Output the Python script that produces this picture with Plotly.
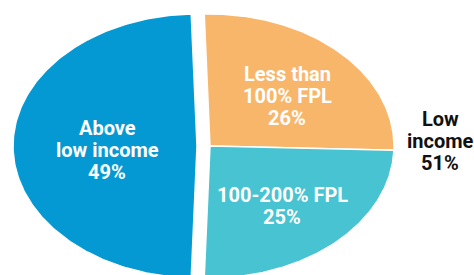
import numpy as np
import plotly.graph_objects as go

# ---- data ----
labels = ["Less than 100% FPL", "100-200% FPL", "Above low income"]
values = [26, 25, 49]
groups = ["Low income", "Low income", "Above low income"]
colors = ["#F8B66B", "#47C3D2", "#0599D4"]
label_lines = [["Less than", "100% FPL", "26%"],
               ["100-200% FPL", "25%"],
               ["Above", "low income", "49%"]]
group_label = ["Low", "income", "51%"]

# ---- geometry (pixel space) ----
W, H = 474, 275
cx, cy = 203.5, 146.0
rx, ry = 184.0, 132.0
explode = 6.5

total = sum(values)
low_share = sum(v for v, g in zip(values, groups) if g == "Low income") / total
start = 90.0 - low_share * 360.0 / 2.0  # low-income group centred at 3 o'clock

fig = go.Figure()
a0 = start
group_angles = {}
for v, g in zip(values, groups):
    a1 = a0 + v / total * 360.0
    group_angles.setdefault(g, [a0, a1])
    group_angles[g][1] = a1
    a0 = a1

a0 = start
for lab, v, g, col in zip(labels, values, groups, colors):
    a1 = a0 + v / total * 360.0
    ga = group_angles[g]
    bis = np.radians((ga[0] + ga[1]) / 2.0)
    ox, oy = explode * np.sin(bis), -explode * np.cos(bis)
    th = np.radians(np.linspace(a0, a1, 200))
    xs = np.concatenate([[cx], cx + rx * np.sin(th), [cx]]) + ox
    ys = np.concatenate([[cy], cy - ry * np.cos(th), [cy]]) + oy
    fig.add_trace(go.Scatter(x=xs, y=ys, mode="lines", fill="toself",
                             fillcolor=col, line=dict(color="white", width=1.5),
                             hoverinfo="text", text=lab, showlegend=False))
    a0 = a1

font_fam = "Roboto, DejaVu Sans, sans-serif"
label_pos = [(287, 74), (282, 195), (107, 128)]
spacing = 22
for lines, (lx, ly) in zip(label_lines, label_pos):
    for i, t in enumerate(lines):
        fig.add_annotation(x=lx, y=ly + i * spacing, text=t,
                           showarrow=False, xanchor="center", yanchor="middle",
                           font=dict(family=font_fam, size=20, color="white",
                                     weight="bold"))
for i, t in enumerate(group_label):
    fig.add_annotation(x=440, y=119 + i * 22, text=t,
                       showarrow=False, xanchor="center", yanchor="middle",
                       font=dict(family=font_fam, size=20, color="#111111",
                                 weight="bold"))

fig.update_layout(width=W, height=H, margin=dict(l=0, r=0, t=0, b=0),
                  paper_bgcolor="white", plot_bgcolor="white",
                  xaxis=dict(range=[0, W], visible=False, fixedrange=True),
                  yaxis=dict(range=[H, 0], visible=False, fixedrange=True))
fig.write_html("out.html", config={"displayModeBar": False},
               post_script="document.body.style.margin='0';document.body.style.overflow='hidden';")
